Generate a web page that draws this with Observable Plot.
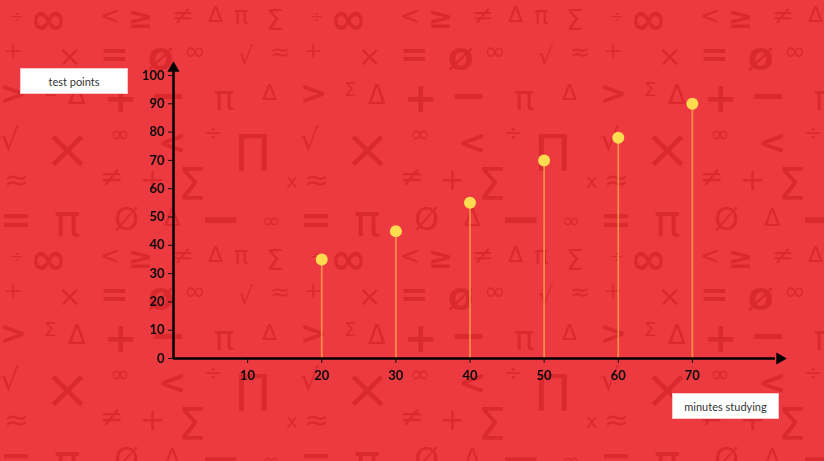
<!DOCTYPE html>
<html>
<head>
<meta charset="utf-8">
<script src="https://cdn.jsdelivr.net/npm/d3@7"></script>
<script src="https://cdn.jsdelivr.net/npm/@observablehq/plot@0.6"></script>
<style>
  html, body { margin: 0; padding: 0; }
  #wrap { position: relative; width: 824px; height: 461px; overflow: hidden; background-color: #ec3a40; }
  #bg { position: absolute; left: 0; top: 0; }
  #chart { position: absolute; left: 0; top: 0; }
  .tag { position: absolute; background: #fff; border: 1px solid #f7c6c8; box-sizing: border-box;
         font-family: Lato, "Open Sans", sans-serif; font-size: 11px; color: #333;
         display: flex; align-items: center; justify-content: center; }
</style>
</head>
<body>
<div id="wrap">
  <canvas id="bg" width="824" height="461"></canvas>
  <div id="chart"></div>
  <div class="tag" style="left:20px;top:68px;width:108px;height:26px;">test points</div>
  <div class="tag" style="left:672px;top:393px;width:107px;height:26px;">minutes studying</div>
</div>
<script>
// ---- data ----
const minutes = [20, 30, 40, 50, 60, 70];
const testPoints = [35, 45, 55, 70, 78, 90];
const xTicks = [10, 20, 30, 40, 50, 60, 70];
const yTicks = [0, 10, 20, 30, 40, 50, 60, 70, 80, 90, 100];

const data = minutes.map((m, i) => ({minutes: m, points: testPoints[i]}));

// ---- decorative math-symbol background (drawn on a canvas, tiled) ----
const sym = [
  ["÷", 10, 22, 16, 0], ["∞", 30, 34, 44, 1], ["<", 100, 24, 24, 0], ["≥", 128, 28, 30, 1], ["≠", 172, 24, 26, 0], ["Δ", 208, 22, 22, 0], ["π", 234, 24, 24, 0], ["Σ", 266, 30, 28, 0],
  ["+", 4, 58, 22, 0], ["×", 58, 66, 28, 0], ["=", 100, 66, 34, 1], ["Ø", 148, 70, 30, 1], ["∞", 184, 60, 26, 0], ["√", 238, 64, 24, 0], ["≈", 270, 60, 24, 0],
  [">", 0, 104, 32, 1], ["Σ", 44, 96, 20, 0], ["Δ", 68, 104, 26, 0], ["+", 104, 112, 40, 1], ["−", 150, 110, 44, 1], ["π", 214, 110, 34, 0], ["Δ", 262, 100, 22, 0],
  ["√", 0, 150, 30, 0], ["×", 44, 168, 56, 0], ["∞", 110, 142, 24, 0], ["<", 158, 154, 34, 1], ["÷", 204, 140, 22, 0], ["Π", 234, 170, 50, 0],
  ["≈", 4, 190, 30, 0], ["≠", 100, 186, 28, 0], ["+", 140, 190, 30, 0], ["Σ", 178, 200, 44, 0], ["x", 286, 188, 20, 0],
  ["=", 0, 232, 38, 1], ["π", 54, 236, 44, 0], ["Ø", 114, 230, 32, 0], ["Δ", 164, 226, 24, 0], ["−", 200, 236, 50, 1], ["∞", 262, 228, 22, 0]
];
{
  const ctx = document.getElementById("bg").getContext("2d");
  ctx.fillStyle = "#ec3a40";
  ctx.fillRect(0, 0, 824, 461);
  ctx.fillStyle = "rgba(212,34,42,0.7)";
  const tw = 300, th = 240;
  for (let ox = -tw; ox < 824 + tw; ox += tw) {
    for (let oy = -th; oy < 461 + th; oy += th) {
      for (const [c, x, y, s, w] of sym) {
        ctx.font = `${w ? "bold" : "normal"} ${s}px "DejaVu Sans"`;
        ctx.fillText(c, ox + x, oy + y);
      }
    }
  }
}

// ---- chart ----
const chart = Plot.plot({
  width: 824,
  height: 461,
  marginLeft: 173,
  marginRight: 58,
  marginTop: 75,
  marginBottom: 103,
  style: {background: "transparent", fontFamily: "Lato, 'Open Sans', sans-serif", fontSize: "13px", color: "#0a0a0a", overflow: "visible"},
  x: {domain: [0, 80]},
  y: {domain: [0, 100]},
  marks: [
    Plot.ruleX(data, {x: "minutes", y1: 0, y2: "points", stroke: "#f8a64c", strokeWidth: 1.8, strokeOpacity: 0.75}),
    Plot.dot(data, {x: "minutes", y: "points", r: 6, fill: "#ffdb4f", stroke: "none"}),
    Plot.axisX({ticks: xTicks, tickSize: 5, tickPadding: 7, label: null, fontWeight: "bold", stroke: "#111"}),
    Plot.axisY({ticks: yTicks, tickSize: 5, tickPadding: 4, label: null, fontWeight: "bold", stroke: "#111"}),
    Plot.ruleY([0], {x1: 0, x2: 81.2, stroke: "#000", strokeWidth: 2.5}),
    Plot.ruleX([0], {y1: 0, y2: 102, stroke: "#000", strokeWidth: 2.5}),
    Plot.dot([0], {x: 81.8, y: 0, symbol: "triangle", rotate: 90, r: 4.5, fill: "#000", stroke: "none"}),
    Plot.dot([0], {x: 0, y: 102.6, symbol: "triangle", r: 4.5, fill: "#000", stroke: "none"})
  ]
});
document.getElementById("chart").append(chart);
</script>
</body>
</html>
